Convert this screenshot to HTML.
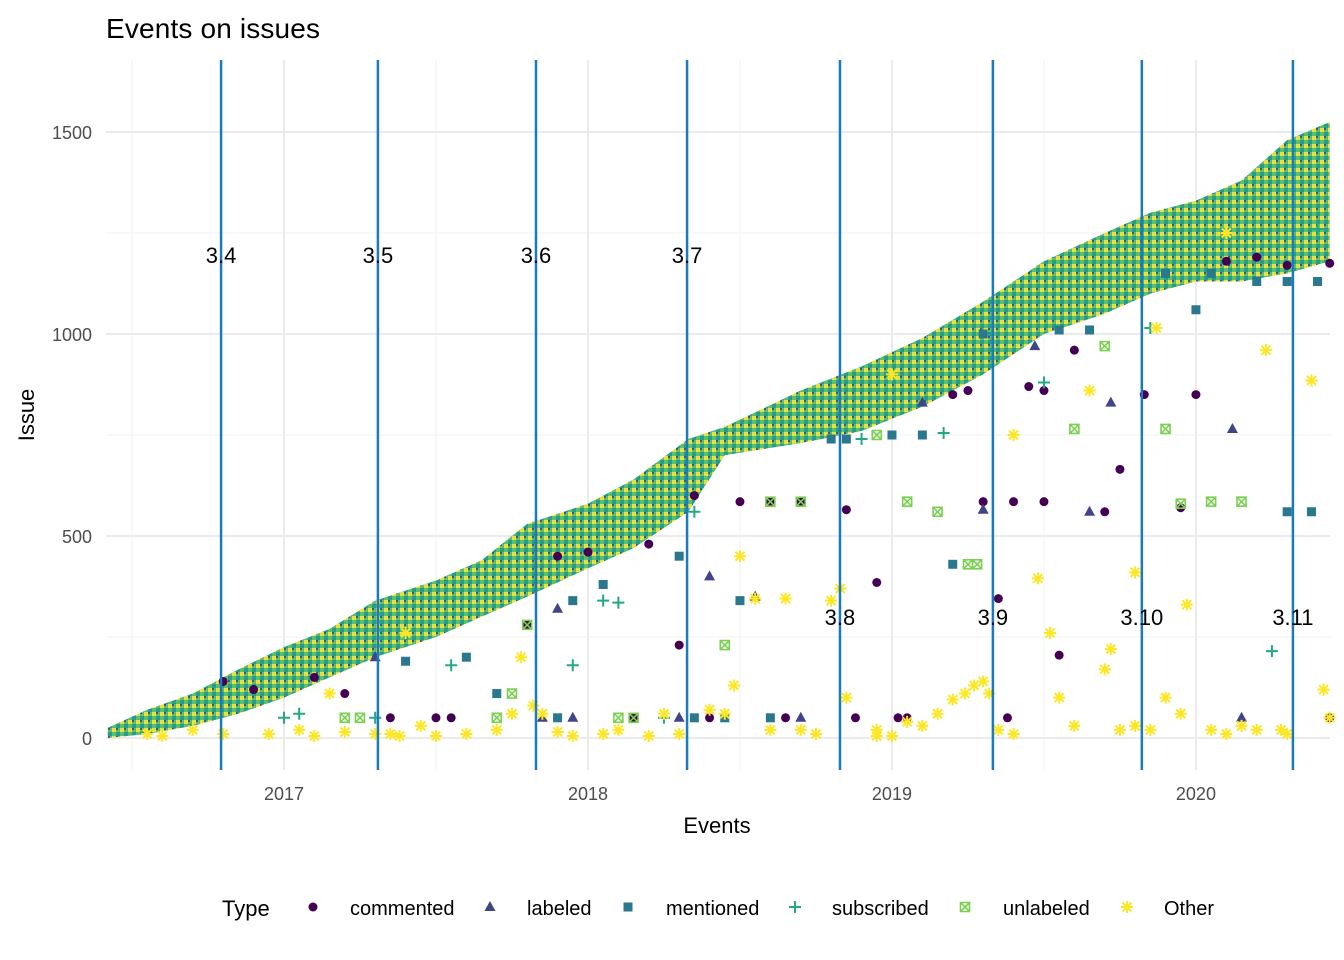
<!DOCTYPE html>
<html><head><meta charset="utf-8">
<style>
body{margin:0;background:#fff;}
svg{display:block;font-family:"Liberation Sans",sans-serif;}
</style></head>
<body>
<svg id="chart" width="1344" height="960">
<text x="106" y="38" font-size="28" fill="#000" textLength="214">Events on issues</text>
<g id="grid"></g>
<g id="band"></g>
<g id="points"></g>
<g id="releases"></g>
<g id="axes"></g>
<text x="717" y="833" font-size="22" text-anchor="middle">Events</text>
<text transform="translate(34,415) rotate(-90)" font-size="22" text-anchor="middle">Issue</text>
<g id="legend"></g>
</svg>
<script>
const NS="http://www.w3.org/2000/svg";
const xTicks=[2017,2018,2019,2020];
const yTicks=[0,500,1000,1500];
const releaseNames=["3.4","3.5","3.6","3.7","3.8","3.9","3.10","3.11"];
const releaseDates=[2016.793,2017.309,2017.829,2018.326,2018.829,2019.332,2019.822,2020.319];
const releaseLabelY=[1195,1195,1195,1195,300,300,300,300];
const bandDates=[2016.42,2016.55,2016.7,2016.85,2017.0,2017.15,2017.3,2017.5,2017.65,2017.8,2018.0,2018.15,2018.33,2018.45,2018.7,2018.9,2019.1,2019.3,2019.5,2019.7,2019.85,2020.0,2020.15,2020.3,2020.44];
const bandTop=[25,70,110,170,225,270,340,390,440,530,580,640,740,770,860,920,990,1080,1180,1250,1300,1330,1380,1480,1525];
const bandBottom=[0,10,30,60,100,150,200,250,300,350,420,470,560,700,730,760,820,900,1000,1050,1100,1130,1130,1150,1180];
const commented=[[2016.8,140],[2016.9,120],[2017.1,150],[2017.2,110],[2017.35,50],[2017.5,50],[2017.55,50],[2017.9,450],[2018.0,460],[2018.2,480],[2018.35,600],[2018.5,585],[2018.6,585],[2018.7,585],[2018.85,565],[2018.95,385],[2019.05,50],[2019.2,850],[2019.4,585],[2019.5,860],[2019.6,960],[2019.7,560],[2019.83,850],[2019.95,570],[2020.0,850],[2020.2,1190],[2020.44,1175],[2019.55,205],[2019.75,665],[2020.44,50],[2019.35,345],[2018.3,230],[2017.8,280],[2018.15,50],[2018.4,50],[2018.65,50],[2018.88,50],[2019.02,50],[2019.38,50],[2019.25,860],[2019.45,870],[2020.1,1180],[2020.3,1170],[2019.3,585],[2019.5,585]];
const labeled=[[2017.3,200],[2017.9,320],[2018.4,400],[2018.55,350],[2019.3,565],[2019.47,970],[2019.65,560],[2019.72,830],[2020.12,765],[2020.15,50],[2017.85,50],[2018.7,50],[2019.1,830],[2017.95,50],[2018.3,50]];
const mentioned=[[2017.4,190],[2017.6,200],[2017.95,340],[2018.05,380],[2018.3,450],[2018.5,340],[2018.8,740],[2018.85,740],[2019.0,750],[2019.1,750],[2019.3,1000],[2019.55,1010],[2019.65,1010],[2020.0,1060],[2020.2,1130],[2020.3,1130],[2020.4,1130],[2020.3,560],[2020.38,560],[2019.2,430],[2018.6,50],[2017.7,110],[2018.45,50],[2017.9,50],[2018.35,50],[2019.9,1150],[2020.05,1150]];
const subscribed=[[2017.05,60],[2017.55,180],[2017.95,180],[2018.1,335],[2018.35,560],[2018.9,740],[2019.17,755],[2019.5,880],[2019.85,1015],[2020.25,215],[2020.4,1260],[2018.25,50],[2017.3,50],[2017.0,50],[2018.05,340]];
const unlabeled=[[2017.2,50],[2017.75,110],[2017.8,280],[2018.15,50],[2018.45,230],[2018.7,585],[2018.95,750],[2019.05,585],[2019.28,430],[2019.6,765],[2019.7,970],[2019.95,580],[2020.05,585],[2020.15,585],[2019.15,560],[2019.9,765],[2017.25,50],[2017.7,50],[2018.1,50],[2018.6,585],[2019.25,430]];
const other=[[2016.55,10],[2016.7,20],[2016.95,10],[2017.05,20],[2017.1,5],[2017.15,110],[2017.2,15],[2017.3,10],[2017.38,5],[2017.45,30],[2017.5,5],[2017.6,10],[2017.7,20],[2017.75,60],[2017.78,200],[2017.82,80],[2017.85,60],[2017.9,15],[2017.95,5],[2018.05,10],[2018.1,20],[2018.2,5],[2018.25,60],[2018.3,10],[2018.4,70],[2018.45,60],[2018.48,130],[2018.5,450],[2018.55,345],[2018.65,345],[2018.7,20],[2018.75,10],[2018.8,340],[2018.83,370],[2018.85,100],[2018.95,20],[2019.05,40],[2019.15,60],[2019.2,95],[2019.24,110],[2019.27,130],[2019.3,140],[2019.32,110],[2019.35,20],[2019.4,10],[2019.48,395],[2019.52,260],[2019.55,100],[2019.6,30],[2019.65,860],[2019.7,170],[2019.72,220],[2019.75,20],[2019.8,410],[2019.85,20],[2019.87,1015],[2019.9,100],[2019.95,60],[2019.97,330],[2020.05,20],[2020.1,10],[2020.15,30],[2020.23,960],[2020.28,20],[2020.3,10],[2020.38,885],[2020.42,120],[2020.44,50],[2019.0,5],[2018.6,20],[2017.4,260],[2017.35,10],[2020.1,1250],[2019.0,900],[2019.4,750],[2016.6,5],[2016.8,10],[2018.95,5],[2019.1,30],[2019.8,30],[2020.2,20]];
const X0=2016.4145,X1=2020.441,PX0=106,PX1=1330;
const xs=d=>PX0+(d-X0)*(PX1-PX0)/(X1-X0);
const ys=v=>738-v*0.404;
function mk(tag,attrs,parent){const e=document.createElementNS(NS,tag);for(const k in attrs)e.setAttribute(k,attrs[k]);parent.appendChild(e);return e;}
const grid=document.getElementById('grid');
[250,750,1250].forEach(v=>{const l=mk('line',{x1:PX0,x2:PX1,y1:ys(v),y2:ys(v),stroke:'#f2f2f2','stroke-width':1},grid);});
[2016.5,2017.5,2018.5,2019.5].forEach(v=>{const l=mk('line',{x1:xs(v),x2:xs(v),y1:60,y2:770,stroke:'#f2f2f2','stroke-width':1},grid);});
yTicks.forEach(v=>{const l=mk('line',{x1:PX0,x2:PX1,y1:ys(v),y2:ys(v),stroke:'#ebebeb','stroke-width':2},grid);});
xTicks.forEach(v=>{const l=mk('line',{x1:xs(v),x2:xs(v),y1:60,y2:770,stroke:'#ebebeb','stroke-width':2},grid);});
const axes=document.getElementById('axes');
yTicks.forEach(v=>{const t=mk('text',{x:92,y:ys(v)+7,'font-size':18,'text-anchor':'end',fill:'#4d4d4d'},axes);t.textContent=v;});
xTicks.forEach(v=>{const t=mk('text',{x:xs(v),y:800,'font-size':18,'text-anchor':'middle',fill:'#4d4d4d'},axes);t.textContent=v;});
const band=document.getElementById('band');
let d='';bandDates.forEach((t,i)=>{d+=(i?'L':'M')+xs(t)+','+ys(bandTop[i]);});
for(let i=bandDates.length-1;i>=0;i--)d+='L'+xs(bandDates[i])+','+ys(bandBottom[i]);
const defs=mk('defs',{},band);
const pat=mk('pattern',{id:'bp',width:8,height:8,patternUnits:'userSpaceOnUse'},defs);
mk('rect',{width:8,height:8,fill:'#5cbf6a'},pat);
mk('rect',{x:0,y:0,width:4,height:4,fill:'#e8e040'},pat);
mk('rect',{x:4,y:4,width:4,height:4,fill:'#2a9a8a'},pat);
mk('rect',{x:4,y:0,width:2,height:2,fill:'#3b5a8a'},pat);
const bp=mk('path',{d:d+'Z',fill:'url(#bp)'},band);


const pts=document.getElementById('points');
function marker(type,x,y,p){
 let e;
 if(type==='commented'){e=mk('circle',{cx:x,cy:y,r:4.5,fill:'#440154'},p);}
 else if(type==='labeled'){e=mk('polygon',{points:`${x},${y-6} ${x-5.5},${y+4} ${x+5.5},${y+4}`,fill:'#414487'},p);}
 else if(type==='mentioned'){e=mk('rect',{x:x-4.5,y:y-4.5,width:9,height:9,fill:'#2A788E'},p);}
 else if(type==='subscribed'){e=mk('path',{d:`M${x-6},${y}H${x+6}M${x},${y-6}V${y+6}`,stroke:'#22A884','stroke-width':2},p);}
 else if(type==='unlabeled'){e=mk('path',{d:`M${x-4.5},${y-4.5}h9v9h-9zM${x-4.5},${y-4.5}l9,9M${x+4.5},${y-4.5}l-9,9`,stroke:'#7AD151','stroke-width':1.6,fill:'none'},p);}
 else {e=mk('path',{d:`M${x-6},${y}H${x+6}M${x},${y-6}V${y+6}M${x-4.5},${y-4.5}L${x+4.5},${y+4.5}M${x+4.5},${y-4.5}L${x-4.5},${y+4.5}`,stroke:'#FDE725','stroke-width':2},p);}
 return e;
}
const series=[['commented',commented],['labeled',labeled],['mentioned',mentioned],['subscribed',subscribed],['unlabeled',unlabeled],['Other',other]];
series.forEach(([n,arr])=>arr.forEach(([t,v])=>{const e=marker(n,xs(t),ys(v),pts);}));
const rel=document.getElementById('releases');
releaseDates.forEach((t,i)=>{const l=mk('line',{x1:xs(t),x2:xs(t),y1:60,y2:770,stroke:'#1a7abf','stroke-width':2.5},rel);
const tx=mk('text',{x:xs(t),y:ys(releaseLabelY[i])+8,'font-size':22,'text-anchor':'middle',fill:'#000'},rel);tx.textContent=releaseNames[i];});
const lg=document.getElementById('legend');
const lt=mk('text',{x:222,y:916,'font-size':22},lg);lt.textContent='Type';
const legendKeys=[['commented',313,350],['labeled',490,527],['mentioned',628,666],['subscribed',795,832],['unlabeled',965,1003],['Other',1127,1164]];
legendKeys.forEach(([n,mx,tx])=>{const g=mk('g',{},lg);marker(n,mx,907,g);const t=mk('text',{x:tx,y:915,'font-size':20},g);t.textContent=n;});
</script>
</body></html>
